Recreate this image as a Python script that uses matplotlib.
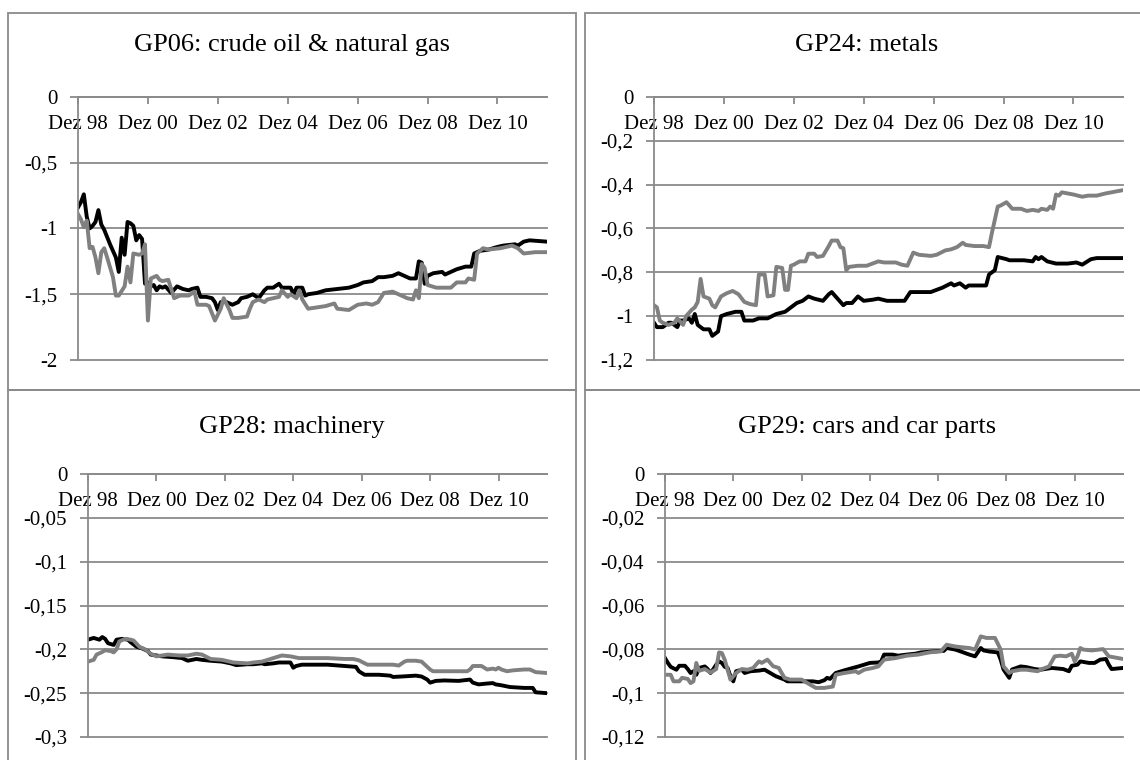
import matplotlib

matplotlib.use("Agg")
import matplotlib.pyplot as plt
from matplotlib.patches import Rectangle
import numpy as np

# month index 0 = Dez 98
TickMonths = [0, 24, 48, 72, 96, 120, 144]
TickLabels = ["Dez 98", "Dez 00", "Dez 02", "Dez 04", "Dez 06", "Dez 08", "Dez 10"]

# GP06: crude oil & natural gas
Gp06BlackM = [0, 1, 2, 3, 4, 5, 6, 7, 8, 9, 11, 12, 13, 14, 15, 16, 17, 18, 19, 20,
              21, 22, 23, 24, 25, 26, 27, 28, 29, 30, 32, 34, 36, 38, 39, 41, 42, 44,
              46, 47, 48, 49, 51, 53, 55, 56, 58, 60, 62, 64, 65, 67, 69, 70, 73, 74,
              75, 77, 78, 79, 82, 85, 89, 93, 96, 98, 101, 103, 105, 108, 110, 112,
              114, 116, 117, 118, 119, 120, 122, 125, 126, 128, 130, 133, 135, 136,
              138, 141, 144, 146, 150, 151, 153, 155, 161]
Gp06BlackV = [-0.84, -0.80, -0.74, -0.91, -1.00, -0.98, -0.95, -0.86, -0.97, -1.01,
              -1.12, -1.17, -1.22, -1.33, -1.07, -1.20, -0.95, -0.96, -0.98, -1.09,
              -1.05, -1.08, -1.42, -1.41, -1.44, -1.43, -1.47, -1.44, -1.45, -1.44,
              -1.49, -1.44, -1.46, -1.47, -1.46, -1.45, -1.52, -1.52, -1.53, -1.56,
              -1.62, -1.56, -1.56, -1.58, -1.56, -1.53, -1.52, -1.50, -1.53, -1.47,
              -1.45, -1.45, -1.42, -1.45, -1.45, -1.50, -1.45, -1.45, -1.51, -1.50,
              -1.49, -1.47, -1.46, -1.45, -1.43, -1.41, -1.40, -1.37, -1.37, -1.36,
              -1.34, -1.36, -1.38, -1.38, -1.25, -1.26, -1.42, -1.36, -1.34, -1.33,
              -1.35, -1.33, -1.31, -1.29, -1.29, -1.19, -1.17, -1.16, -1.14, -1.13,
              -1.12, -1.13, -1.10, -1.09, -1.10]
Gp06GreyM = [0, 1, 2, 3, 4, 5, 6, 7, 8, 9, 10, 12, 13, 14, 16, 17, 18, 19, 21, 22, 23,
             24, 25, 27, 28, 29, 31, 32, 33, 35, 38, 40, 41, 44, 45, 47, 49, 50, 52,
             53, 55, 58, 59, 60, 62, 64, 65, 69, 70, 72, 73, 75, 76, 77, 79, 82, 85,
             88, 89, 93, 96, 99, 101, 103, 105, 108, 110, 113, 115, 116, 117, 118,
             119, 120, 123, 125, 128, 130, 133, 134, 136, 137, 139, 141, 145, 149,
             151, 153, 157, 161]
Gp06GreyV = [-0.89, -0.93, -0.99, -0.94, -1.15, -1.14, -1.22, -1.34, -1.18, -1.15,
             -1.22, -1.37, -1.51, -1.51, -1.44, -1.29, -1.41, -1.19, -1.20, -1.19,
             -1.12, -1.70, -1.38, -1.36, -1.39, -1.40, -1.39, -1.46, -1.53, -1.51,
             -1.51, -1.48, -1.58, -1.58, -1.59, -1.70, -1.61, -1.53, -1.62, -1.68,
             -1.68, -1.67, -1.61, -1.56, -1.54, -1.56, -1.54, -1.52, -1.47, -1.52,
             -1.50, -1.53, -1.47, -1.54, -1.61, -1.60, -1.59, -1.57, -1.61, -1.62,
             -1.58, -1.57, -1.58, -1.56, -1.49, -1.48, -1.50, -1.53, -1.54, -1.47,
             -1.53, -1.27, -1.30, -1.43, -1.45, -1.45, -1.45, -1.41, -1.41, -1.38,
             -1.39, -1.19, -1.15, -1.16, -1.15, -1.13, -1.15, -1.19, -1.18, -1.18]

# GP24: metals
Gp24BlackM = [0, 1, 3, 5, 6, 8, 9, 10, 12, 13, 14, 15, 17, 19, 20, 22, 23, 25, 28,
              30, 31, 34, 36, 39, 42, 45, 47, 49, 51, 53, 55, 58, 60, 61, 63, 65, 66,
              68, 70, 72, 75, 77, 80, 83, 86, 88, 91, 95, 97, 99, 102, 103, 105, 107,
              108, 111, 114, 115, 117, 118, 121, 122, 127, 130, 131, 132, 133, 135,
              138, 142, 145, 147, 150, 152, 161]
Gp24BlackV = [-1.03, -1.05, -1.05, -1.03, -1.03, -1.05, -1.02, -1.02, -1.01, -1.03,
              -0.99, -1.04, -1.06, -1.06, -1.09, -1.07, -1.00, -0.99, -0.98, -0.98,
              -1.02, -1.02, -1.01, -1.01, -0.99, -0.98, -0.96, -0.94, -0.93, -0.91,
              -0.92, -0.93, -0.90, -0.89, -0.92, -0.95, -0.94, -0.94, -0.91, -0.93,
              -0.925, -0.92, -0.93, -0.93, -0.93, -0.89, -0.89, -0.89, -0.88, -0.87,
              -0.85, -0.86, -0.85, -0.87, -0.86, -0.86, -0.86, -0.81, -0.79, -0.73,
              -0.74, -0.745, -0.745, -0.75, -0.73, -0.74, -0.73, -0.75, -0.76, -0.76,
              -0.755, -0.765, -0.74, -0.735, -0.735]
Gp24GreyM = [0, 1, 2, 3, 5, 7, 8, 10, 11, 13, 14, 15, 16, 17, 19, 20, 21, 23, 25, 27,
             29, 31, 33, 35, 36, 38, 39, 41, 42, 44, 45, 46, 47, 48, 50, 52, 53, 55,
             56, 58, 60, 61, 63, 64, 65, 66, 67, 70, 73, 75, 77, 79, 83, 85, 87, 89,
             91, 95, 97, 100, 102, 104, 106, 107, 110, 113, 115, 116, 118, 119, 121,
             123, 126, 128, 130, 132, 133, 135, 136, 137, 138, 139, 140, 142, 144,
             147, 149, 152, 155, 157, 161]
Gp24GreyV = [-0.95, -0.96, -1.02, -1.03, -1.04, -1.03, -1.01, -1.04, -1.00, -0.97,
             -0.96, -0.935, -0.83, -0.91, -0.92, -0.95, -0.96, -0.91, -0.895, -0.885,
             -0.90, -0.935, -0.945, -0.95, -0.81, -0.81, -0.91, -0.905, -0.775, -0.78,
             -0.88, -0.88, -0.77, -0.765, -0.75, -0.75, -0.715, -0.715, -0.73, -0.725,
             -0.68, -0.655, -0.655, -0.685, -0.69, -0.79, -0.775, -0.77, -0.77, -0.76,
             -0.75, -0.755, -0.755, -0.765, -0.77, -0.71, -0.72, -0.725, -0.72, -0.70,
             -0.695, -0.685, -0.665, -0.675, -0.68, -0.68, -0.685, -0.62, -0.50,
             -0.495, -0.48, -0.51, -0.51, -0.52, -0.515, -0.52, -0.51, -0.515, -0.50,
             -0.51, -0.445, -0.45, -0.435, -0.44, -0.445, -0.455, -0.45, -0.45, -0.44,
             -0.435, -0.425]

# GP28: machinery
Gp28BlackM = [0, 2, 4, 5, 6, 7, 9, 10, 12, 14, 15, 17, 19, 21, 22, 26, 30, 33, 35,
              38, 40, 43, 47, 50, 52, 56, 58, 61, 62, 65, 67, 71, 72, 73, 75, 79, 84,
              90, 94, 95, 97, 102, 106, 107, 110, 115, 117, 119, 120, 122, 125, 130,
              134, 135, 137, 140, 142, 143, 145, 148, 153, 156, 157, 161]
Gp28BlackV = [-0.189, -0.187, -0.189, -0.186, -0.188, -0.193, -0.195, -0.189, -0.188,
              -0.189, -0.192, -0.197, -0.199, -0.202, -0.206, -0.208, -0.209, -0.210,
              -0.213, -0.211, -0.212, -0.213, -0.214, -0.216, -0.218, -0.217, -0.217,
              -0.216, -0.217, -0.216, -0.215, -0.215, -0.221, -0.219, -0.2175, -0.2175,
              -0.2175, -0.219, -0.220, -0.225, -0.229, -0.229, -0.230, -0.2315, -0.231,
              -0.230, -0.231, -0.2345, -0.238, -0.236, -0.2355, -0.236, -0.2345,
              -0.238, -0.240, -0.239, -0.2385, -0.240, -0.241, -0.243, -0.244, -0.244,
              -0.249, -0.250]
Gp28GreyM = [0, 2, 3, 5, 6, 8, 9, 10, 11, 13, 15, 16, 18, 20, 22, 24, 28, 32, 35, 38,
             40, 43, 47, 51, 56, 58, 61, 64, 66, 68, 71, 74, 79, 84, 90, 93, 95, 98,
             102, 107, 109, 111, 112, 115, 117, 120, 121, 125, 129, 133, 134, 135,
             138, 140, 142, 143, 144, 145, 147, 149, 153, 155, 157, 161]
Gp28GreyV = [-0.214, -0.212, -0.206, -0.203, -0.201, -0.202, -0.2035, -0.200, -0.191,
             -0.188, -0.189, -0.190, -0.197, -0.200, -0.205, -0.208, -0.206, -0.207,
             -0.207, -0.205, -0.206, -0.211, -0.212, -0.215, -0.216, -0.215, -0.214,
             -0.211, -0.209, -0.207, -0.208, -0.210, -0.210, -0.210, -0.211, -0.211,
             -0.2125, -0.2175, -0.2175, -0.2175, -0.2185, -0.214, -0.213, -0.213,
             -0.214, -0.223, -0.225, -0.225, -0.225, -0.225, -0.223, -0.219, -0.219,
             -0.223, -0.222, -0.223, -0.221, -0.223, -0.225, -0.224, -0.223, -0.223,
             -0.226, -0.227]

# GP29: cars and car parts
Gp29BlackM = [0, 1, 2, 4, 5, 7, 8, 9, 10, 11, 12, 14, 15, 16, 17, 18, 19, 20, 21, 22,
              23, 24, 25, 27, 28, 30, 33, 35, 37, 39, 42, 43, 48, 52, 54, 56, 57, 58,
              60, 63, 66, 68, 70, 72, 75, 76, 77, 80, 82, 85, 88, 90, 94, 98, 99, 102,
              104, 107, 109, 111, 112, 114, 117, 118, 119, 121, 122, 125, 127, 130,
              132, 136, 140, 142, 143, 145, 146, 149, 151, 153, 155, 156, 157, 161]
Gp29BlackV = [-0.0840, -0.0862, -0.0880, -0.0893, -0.0875, -0.0875, -0.0890, -0.0908,
              -0.0900, -0.0916, -0.0885, -0.0878, -0.0890, -0.0908, -0.0890, -0.0870,
              -0.0855, -0.0862, -0.0880, -0.0885, -0.0923, -0.0946, -0.0900, -0.0893,
              -0.0908, -0.0900, -0.0897, -0.0893, -0.0908, -0.0923, -0.0938, -0.0946,
              -0.0946, -0.0946, -0.0950, -0.0941, -0.0930, -0.0935, -0.0908, -0.0896,
              -0.0885, -0.0878, -0.0870, -0.0862, -0.0860, -0.0855, -0.0824, -0.0824,
              -0.0829, -0.0824, -0.0820, -0.0814, -0.0810, -0.0807, -0.0794, -0.0801,
              -0.0810, -0.0824, -0.0832, -0.0794, -0.0805, -0.0810, -0.0814, -0.0847,
              -0.0892, -0.0930, -0.0892, -0.0878, -0.0881, -0.0890, -0.0893, -0.0885,
              -0.0890, -0.0900, -0.0875, -0.0870, -0.0855, -0.0862, -0.0862, -0.0847,
              -0.0844, -0.0870, -0.0890, -0.0885]
Gp29GreyM = [0, 2, 3, 5, 6, 8, 9, 10, 11, 12, 14, 16, 18, 19, 20, 21, 23, 25, 27, 29,
             31, 33, 34, 36, 38, 40, 42, 44, 48, 51, 53, 56, 59, 60, 63, 67, 68, 70,
             73, 75, 77, 81, 85, 89, 93, 97, 99, 102, 104, 107, 109, 111, 113, 116,
             118, 119, 121, 122, 125, 127, 131, 132, 135, 137, 139, 141, 143, 144,
             145, 146, 147, 150, 154, 156, 161]
Gp29GreyV = [-0.0916, -0.0916, -0.0946, -0.0946, -0.0930, -0.0935, -0.0954, -0.0946,
             -0.0862, -0.0898, -0.0890, -0.0906, -0.0890, -0.0814, -0.0817, -0.0848,
             -0.0938, -0.0908, -0.0890, -0.0893, -0.0885, -0.0855, -0.0862, -0.0847,
             -0.0877, -0.0885, -0.0930, -0.0938, -0.0938, -0.0961, -0.0976, -0.0976,
             -0.0970, -0.0916, -0.0908, -0.0900, -0.0908, -0.0893, -0.0885, -0.0878,
             -0.0847, -0.0840, -0.0829, -0.0824, -0.0814, -0.0809, -0.0779, -0.0787,
             -0.0790, -0.0794, -0.0801, -0.0741, -0.0748, -0.0748, -0.0801, -0.0878,
             -0.0908, -0.0900, -0.0893, -0.0893, -0.0900, -0.0893, -0.0878, -0.0832,
             -0.0829, -0.0832, -0.0820, -0.0855, -0.0832, -0.0794, -0.0801, -0.0805,
             -0.0799, -0.0832, -0.0844]

Titles = ["GP06: crude oil & natural gas", "GP24: metals",
          "GP28: machinery", "GP29: cars and car parts"]
YTicks = [[0, -0.5, -1, -1.5, -2],
          [0, -0.2, -0.4, -0.6, -0.8, -1, -1.2],
          [0, -0.05, -0.1, -0.15, -0.2, -0.25, -0.3],
          [0, -0.02, -0.04, -0.06, -0.08, -0.1, -0.12]]


def fmt(v):
    v = round(v, 4)
    if v == 0:
        return "0"
    return f"{v:g}".replace(".", ",")


def main():
    plt.rcParams["font.family"] = ["Liberation Serif", "DejaVu Serif"]
    W, H = 1140, 760
    fig = plt.figure(figsize=(W / 100, H / 100), dpi=100)
    GridColor = "#8a8a8a"

    # axes boxes in pixels: left, right, top(y=0 line), bottom
    Boxes = [(78, 547, 97, 360), (654, 1123, 97, 360),
             (88, 547, 474, 737), (665, 1123, 474, 737)]
    Series = [(Gp06BlackM, Gp06BlackV, Gp06GreyM, Gp06GreyV),
              (Gp24BlackM, Gp24BlackV, Gp24GreyM, Gp24GreyV),
              (Gp28BlackM, Gp28BlackV, Gp28GreyM, Gp28GreyV),
              (Gp29BlackM, Gp29BlackV, Gp29GreyM, Gp29GreyV)]
    TitleXY = [(292, 45), (867, 45), (292, 427), (867, 427)]

    # panel frames
    Frames = [(8, 13, 576, 390), (585, 13, 1150, 390),
              (8, 390, 576, 770), (585, 390, 1150, 770)]
    for x0, y0, x1, y1 in Frames:
        fig.add_artist(Rectangle((x0 / W, 1 - y1 / H), (x1 - x0) / W, (y1 - y0) / H,
                                 transform=fig.transFigure, fill=False,
                                 edgecolor=GridColor, linewidth=1.3))

    for i in range(4):
        l, r, t, b = Boxes[i]
        ax = fig.add_axes([l / W, 1 - b / H, (r - l) / W, (b - t) / H])
        bm, bv, gm, gv = Series[i]
        ax.plot(bm, bv, color="black", linewidth=2.8, solid_joinstyle="round")
        ax.plot(gm, gv, color="#808080", linewidth=2.8, solid_joinstyle="round")

        yt = YTicks[i]
        ax.set_ylim(min(yt), 0)
        ax.set_xlim(0, 161)
        ax.set_yticks(yt)
        ax.set_yticklabels([fmt(v) for v in yt])
        ax.set_xticks(TickMonths)
        ax.set_xticklabels(TickLabels)

        for s in ["top", "right"]:
            ax.spines[s].set_visible(False)
        ax.spines["bottom"].set_position(("data", 0))
        ax.spines["bottom"].set_color(GridColor)
        ax.spines["left"].set_color(GridColor)
        ax.spines["bottom"].set_linewidth(1.3)
        ax.spines["left"].set_linewidth(1.3)
        ax.set_axisbelow(True)
        ax.grid(axis="y", color=GridColor, linewidth=1.3)
        for gl in ax.get_ygridlines():
            gl.set_clip_on(False)
        ax.tick_params(axis="x", direction="out", length=5, width=1.3,
                       color=GridColor, labelsize=15, pad=8)
        ax.tick_params(axis="y", direction="out", length=6, width=1.3,
                       color=GridColor, labelsize=15, pad=9)

        tx, ty = TitleXY[i]
        fig.text(tx / W, 1 - ty / H, Titles[i], ha="center", va="center",
                 fontsize=19)

    fig.savefig("out.png", dpi=100)


if __name__ == "__main__":
    main()
